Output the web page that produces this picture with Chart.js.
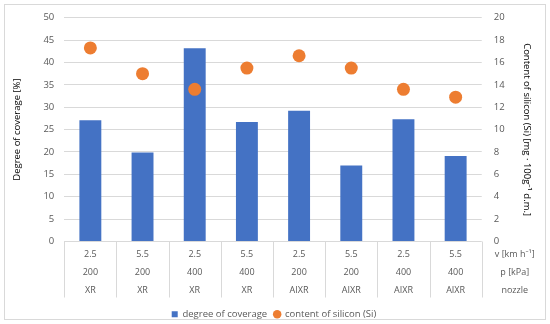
<!DOCTYPE html>
<html>
<head>
<meta charset="utf-8">
<script src="https://cdn.jsdelivr.net/npm/chart.js@4"></script>
<style>
  html, body { margin: 0; padding: 0; background: #fff; }
  #wrap { width: 550px; height: 324px; }
</style>
</head>
<body>
<div id="wrap"><canvas id="chart" width="550" height="324"></canvas></div>
<script>
// categories: speed, pressure, nozzle
const speeds = ['2.5', '5.5', '2.5', '5.5', '2.5', '5.5', '2.5', '5.5'];
const pressures = ['200', '200', '400', '400', '200', '200', '400', '400'];
const nozzles = ['XR', 'XR', 'XR', 'XR', 'AIXR', 'AIXR', 'AIXR', 'AIXR'];
const rowNames = ['v [km h\u207B\u00B9]', 'p [kPa]', 'nozzle'];

const coverage = [27.1, 19.9, 43.2, 26.7, 29.2, 17.0, 27.3, 19.1];
const silicon = [17.3, 15.0, 13.6, 15.5, 16.6, 15.5, 13.6, 12.9];

const fontFamily = "'Open Sans', 'Noto Sans', sans-serif";
const textColor = '#595959';
const gridColor = '#d9d9d9';
const rowHeight = 18;
const firstRow = 13;
const tableHeight = 56;

const labels = speeds.map((s, i) => [s, pressures[i], nozzles[i]]);

// outer frame, category table (separators, rows of labels, row names)
const extras = {
  id: 'extras',
  beforeDraw(chart) {
    const ctx = chart.ctx;
    ctx.save();
    ctx.strokeStyle = gridColor;
    ctx.lineWidth = 1;
    ctx.strokeRect(4.5, 4.5, chart.width - 9, chart.height - 9);
    ctx.restore();
  },
  afterDraw(chart) {
    const ctx = chart.ctx;
    const x = chart.scales.x;
    const half = (x.getPixelForValue(1) - x.getPixelForValue(0)) / 2;
    ctx.save();
    ctx.strokeStyle = gridColor;
    ctx.lineWidth = 1;
    ctx.beginPath();
    for (let i = 0; i <= labels.length; i++) {
      const px = Math.round(x.getPixelForValue(i) - half) + 0.5;
      ctx.moveTo(px, x.top);
      ctx.lineTo(px, x.top + tableHeight);
    }
    ctx.stroke();
    ctx.font = '9px ' + fontFamily;
    ctx.fillStyle = textColor;
    ctx.textAlign = 'center';
    ctx.textBaseline = 'middle';
    labels.forEach((lines, i) => {
      const px = x.getPixelForValue(i);
      lines.forEach((t, r) => ctx.fillText(t, px, x.top + firstRow + rowHeight * r));
    });
    const cx = chart.chartArea.right + 33;
    rowNames.forEach((name, r) => {
      ctx.fillText(name, cx, x.top + firstRow + rowHeight * r);
    });
    ctx.restore();
  }
};

new Chart(document.getElementById('chart'), {
  data: {
    labels: labels,
    datasets: [
      {
        type: 'line',
        label: 'content of silicon (Si)',
        data: silicon,
        yAxisID: 'y1',
        showLine: false,
        pointStyle: 'circle',
        pointRadius: 6.5,
        pointHoverRadius: 6.5,
        backgroundColor: '#ED7D31',
        borderColor: '#ED7D31',
        borderWidth: 0,
        order: 0
      },
      {
        type: 'bar',
        label: 'degree of coverage',
        data: coverage,
        yAxisID: 'y',
        backgroundColor: '#4472C4',
        pointStyle: 'rect',
        categoryPercentage: 1,
        barPercentage: 0.42,
        order: 1
      }
    ]
  },
  options: {
    responsive: false,
    animation: false,
    layout: { padding: { top: 10, left: 8, right: 10, bottom: -5 } },
    plugins: {
      tooltip: { enabled: false },
      legend: {
        position: 'bottom',
        reverse: true,
        labels: {
          usePointStyle: true,
          boxWidth: 6,
          boxHeight: 6,
          padding: 7,
          color: textColor,
          font: { family: fontFamily, size: 9.5 }
        }
      }
    },
    scales: {
      x: {
        offset: true,
        grid: { display: false },
        border: { display: false },
        afterFit(scale) { scale.height = 61; },
        ticks: { display: false }
      },
      y: {
        position: 'left',
        min: 0,
        max: 50,
        ticks: {
          stepSize: 5,
          color: textColor,
          padding: 10,
          font: { family: fontFamily, size: 9.5 }
        },
        grid: { color: gridColor, drawTicks: false },
        border: { display: false },
        title: {
          display: true,
          text: 'Degree of coverage [%]',
          color: '#000',
          padding: { bottom: 10 },
          font: { family: fontFamily, size: 9.5 }
        }
      },
      y1: {
        position: 'right',
        min: 0,
        max: 20,
        ticks: {
          stepSize: 2,
          color: textColor,
          padding: 12,
          font: { family: fontFamily, size: 9.5 }
        },
        grid: { drawOnChartArea: false, drawTicks: false },
        border: { display: false },
        title: {
          display: true,
          text: 'Content of silicon (Si) [mg \u00B7 100g\u207B\u00B9 d.m.]',
          color: '#000',
          padding: { top: 8 },
          font: { family: fontFamily, size: 9.5 }
        }
      }
    }
  },
  plugins: [extras]
});
</script>
</body>
</html>
